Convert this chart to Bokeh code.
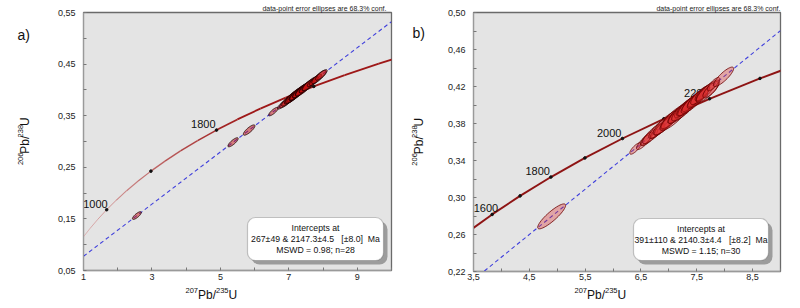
import numpy as np
from bokeh.plotting import figure
from bokeh.models import Range1d, FixedTicker, CustomJSTickFormatter, Label, BoxAnnotation, Title
from bokeh.layouts import row, column
from bokeh.embed import file_html
from bokeh.resources import INLINE
from bokeh.core.properties import value

FONT = "Liberation Sans"

# ---------------- data ----------------
# Concordia curve points (age in Ma, 207Pb/235U, 206Pb/238U)
conc_age = [700, 800, 900, 1000, 1100, 1200, 1300, 1400, 1500, 1600,
            1700, 1800, 1900, 2000, 2100, 2200, 2300, 2400, 2500]
conc_x = [0.99251, 1.19873, 1.42630, 1.67741, 1.95452, 2.26030, 2.59774, 2.97010, 3.38099, 3.83442,
          4.33477, 4.88690, 5.49619, 6.16852, 6.91045, 7.72916, 8.63259, 9.62954, 10.72972]
conc_y = [0.114702, 0.132129, 0.149828, 0.167804, 0.186061, 0.204603, 0.223435, 0.242561, 0.261988, 0.281716,
          0.301754, 0.322104, 0.342773, 0.363767, 0.385086, 0.406741, 0.428733, 0.451068, 0.473753]

a_dot_ages = [1000, 1400, 1800, 2200]
a_label_ages = [1000, 1800]
b_dot_ages = [1600, 1700, 1800, 1900, 2000, 2100, 2200, 2300]
b_label_ages = [1600, 1800, 2000, 2200]

# Discordia lines (end points across each panel)
disc_a_x = [1.0, 10.0]
disc_a_y = [0.0776, 0.5323]
disc_b_x = [3.5, 9.0]
disc_b_y = [0.2110, 0.4804]

# Panel a) analyses: 207/235, 206/238, errors, error correlation (n=28)
a_x = [2.56, 5.37, 5.84, 6.55, 6.80, 6.92, 7.00, 7.05, 7.10, 7.13, 7.17, 7.20, 7.22, 7.25,
       7.28, 7.30, 7.33, 7.36, 7.40, 7.43, 7.47, 7.52, 7.57, 7.63, 7.70, 7.78, 7.88, 7.95]
a_y = [0.1565, 0.2985, 0.3222, 0.3580, 0.3708, 0.3765, 0.3812, 0.3828, 0.3864, 0.3868, 0.3898, 0.3904, 0.3925, 0.3930,
       0.3952, 0.3955, 0.3979, 0.3984, 0.4013, 0.4020, 0.4048, 0.4065, 0.4100, 0.4122, 0.4160, 0.4195, 0.4250, 0.4290]
a_sx = [0.13, 0.15, 0.17, 0.14, 0.13, 0.19, 0.21, 0.16, 0.23, 0.17, 0.26, 0.19, 0.21, 0.15,
        0.25, 0.18, 0.22, 0.16, 0.20, 0.24, 0.17, 0.21, 0.19, 0.23, 0.16, 0.18, 0.21, 0.17]
a_sy = [0.0075, 0.0088, 0.0100, 0.0082, 0.0080, 0.0115, 0.0128, 0.0097, 0.0138, 0.0103, 0.0155, 0.0115, 0.0128, 0.0092,
        0.0150, 0.0109, 0.0133, 0.0097, 0.0121, 0.0144, 0.0103, 0.0128, 0.0115, 0.0138, 0.0097, 0.0109, 0.0128, 0.0103]
a_rho = [0.80, 0.82, 0.82, 0.82, 0.82, 0.83, 0.84, 0.82, 0.84, 0.82, 0.86, 0.83, 0.84, 0.82,
         0.86, 0.83, 0.84, 0.82, 0.83, 0.85, 0.82, 0.84, 0.83, 0.84, 0.82, 0.83, 0.84, 0.82]

# Panel b) analyses (n=30)
b_x = [4.90, 6.40, 6.55, 6.60, 6.65, 6.72, 6.80, 6.85, 6.90, 6.95, 7.00, 7.05, 7.10, 7.15, 7.20,
       7.25, 7.28, 7.32, 7.36, 7.40, 7.44, 7.48, 7.52, 7.56, 7.60, 7.65, 7.70, 7.75, 7.80, 7.98]
b_y = [0.2796, 0.3530, 0.3598, 0.3635, 0.3650, 0.3692, 0.3720, 0.3758, 0.3770, 0.3806, 0.3822, 0.3855, 0.3870, 0.3902, 0.3920,
       0.3951, 0.3958, 0.3985, 0.3998, 0.4025, 0.4036, 0.4065, 0.4075, 0.4105, 0.4125, 0.4140, 0.4150, 0.4165, 0.4225, 0.4305]
b_sx = [0.25, 0.10, 0.13, 0.11, 0.15, 0.19, 0.13, 0.21, 0.16, 0.23, 0.14, 0.19, 0.26, 0.17, 0.21,
        0.15, 0.23, 0.18, 0.20, 0.16, 0.22, 0.14, 0.19, 0.17, 0.13, 0.16, 0.21, 0.14, 0.11, 0.18]
b_sy = [0.0135, 0.0062, 0.0080, 0.0070, 0.0090, 0.0110, 0.0080, 0.0120, 0.0096, 0.0130, 0.0086, 0.0110, 0.0146, 0.0100, 0.0120,
        0.0090, 0.0130, 0.0105, 0.0115, 0.0096, 0.0125, 0.0086, 0.0110, 0.0100, 0.0082, 0.0096, 0.0120, 0.0088, 0.0072, 0.0105]
b_rho = [0.88, 0.80, 0.82, 0.80, 0.83, 0.84, 0.82, 0.85, 0.83, 0.85, 0.82, 0.84, 0.86, 0.83, 0.85,
         0.82, 0.85, 0.83, 0.84, 0.83, 0.85, 0.81, 0.84, 0.83, 0.79, 0.82, 0.84, 0.77, 0.79, 0.85]

# Axes ticks
a_xticks = [1, 3, 5, 7, 9]
a_xminor = [2, 4, 6, 8, 10]
a_yticks = [0.05, 0.15, 0.25, 0.35, 0.45, 0.55]
a_yminor = [0.10, 0.20, 0.30, 0.40, 0.50]
b_xticks = [3.5, 4.5, 5.5, 6.5, 7.5, 8.5]
b_xminor = [4, 5, 6, 7, 8, 9]
b_yticks = [0.22, 0.26, 0.30, 0.34, 0.38, 0.42, 0.46, 0.50]
b_yminor = [0.24, 0.28, 0.32, 0.36, 0.40, 0.44, 0.48]

NB = "\u00a0"
a_box_lines = ["Intercepts at", "267\u00b149 & 2147.3\u00b14.5 " + NB * 2 + "[\u00b18.0] " + NB + "Ma", "MSWD = 0.98; n=28"]
b_box_lines = ["Intercepts at", "391\u00b1110 & 2140.3\u00b14.4 " + NB * 2 + "[\u00b18.2] " + NB + "Ma", "MSWD = 1.15; n=30"]
conf_text = "data-point error ellipses are 68.3% conf."

CHARW = {"0": .556, "1": .556, "2": .556, "3": .556, "4": .556, "5": .556, "6": .556, "7": .556,
         "8": .556, "9": .556, "P": .667, "b": .556, "/": .278, "U": .722}

STRIP_W = 40      # width of the left strip holding the y title
ROW_H = 284       # height of the row with the plot
BOT_H = 24        # height of the bottom strip holding the x title


def ellipse_xy(cx, cy, sx, sy, rho, n=48):
    t = np.linspace(0, 2 * np.pi, n)
    xs = cx + sx * np.cos(t)
    ys = cy + sy * (rho * np.cos(t) + np.sqrt(1 - rho ** 2) * np.sin(t))
    return list(xs), list(ys)


def strip(w, h):
    s = figure(width=w, height=h, output_backend="svg", toolbar_location=None, title=None,
               x_range=Range1d(0, w), y_range=Range1d(h, 0),
               x_axis_location=None, y_axis_location=None, min_border=0,
               min_border_left=0, min_border_right=0, min_border_top=0, min_border_bottom=0)
    s.outline_line_color = None
    s.background_fill_color = "white"
    s.border_fill_color = "white"
    s.grid.visible = False
    return s


def iso_title(s, sup1, sup2, start, base, vertical=False, big=12.0, small=7.5, raise_px=4.5):
    parts = [(sup1, True), ("Pb/", False), (sup2, True), ("U", False)]
    cur = start
    for txt, sup in parts:
        fs = small if sup else big
        w = sum(CHARW.get(c, 0.6) for c in txt) * fs
        if not vertical:
            s.text([cur], [base - (raise_px if sup else 0)], text=[txt], text_font=value(FONT),
                   text_font_size="%.1fpx" % fs, text_align="left", text_baseline="alphabetic",
                   text_color="#111111")
            cur += w
        else:
            s.text([base - (raise_px if sup else 0)], [cur], text=[txt], angle=np.pi / 2,
                   text_font=value(FONT), text_font_size="%.1fpx" % fs, text_align="left",
                   text_baseline="alphabetic", text_color="#111111")
            cur -= w


def make_panel(xr, yr, fl, fr, ft, fb, xt, xm, yt, ym, xdec, ydec, standoff,
               dot_ages, label_ages, label_dx, dxs, dys, ex, ey, esx, esy, erho,
               fill, falpha, eline, conc_grad, box, box_lines, letter, letter_xy,
               xlab_start, ylab_base, conf_offset):
    # fl, fr, ft, fb : frame left / right / top / bottom in panel pixel coords
    W = 400 - STRIP_W
    p = figure(width=W, height=ROW_H, output_backend="svg", toolbar_location=None,
               title=Title(text=conf_text, align="right", text_font=FONT, text_font_size="7px",
                           text_font_style="normal", text_color="#222222", standoff=1,
                           offset=conf_offset),
               x_range=Range1d(*xr), y_range=Range1d(*yr),
               min_border_left=fl - STRIP_W, min_border_right=400 - fr,
               min_border_top=ft, min_border_bottom=ROW_H - fb)
    p.background_fill_color = "#e4e4e4"
    p.border_fill_color = "white"
    p.outline_line_color = "#6a6a6a"
    p.outline_line_width = 1.3
    p.grid.visible = False
    p.xaxis.ticker = FixedTicker(ticks=xt, minor_ticks=xm)
    p.yaxis.ticker = FixedTicker(ticks=yt, minor_ticks=ym)
    p.xaxis.formatter = CustomJSTickFormatter(code="return tick.toFixed(%d).replace('.', ',');" % xdec)
    p.yaxis.formatter = CustomJSTickFormatter(code="return tick.toFixed(%d).replace('.', ',');" % ydec)
    for ax in (p.xaxis[0], p.yaxis[0]):
        ax.axis_line_color = "#9a9a9a"
        ax.major_tick_in = 3
        ax.major_tick_out = 0
        ax.minor_tick_in = 3
        ax.minor_tick_out = 0
        ax.major_tick_line_color = "#777777"
        ax.minor_tick_line_color = "#777777"
        ax.major_label_text_font = FONT
        ax.major_label_text_font_size = "9px"
        ax.major_label_text_color = "#222222"
    p.xaxis.major_label_standoff = standoff
    p.yaxis.major_label_standoff = 8
    fw = fr - fl
    fh = fb - ft

    def dx(px):
        return xr[0] + (px - fl) / fw * (xr[1] - xr[0])

    def dy(py):
        return yr[1] - (py - ft) / fh * (yr[1] - yr[0])

    # concordia
    segs_x, segs_y, cols, wids = [], [], [], []
    for i in range(len(conc_x) - 1):
        segs_x.append([conc_x[i], conc_x[i + 1]])
        segs_y.append([conc_y[i], conc_y[i + 1]])
        if conc_grad:
            m = 0.5 * (conc_x[i] + conc_x[i + 1])
            t = min(max((m - 1.0) / 4.5, 0.0), 1.0)
            r = int(218 + (158 - 218) * t)
            g = int(170 + (24 - 170) * t)
            b = int(170 + (24 - 170) * t)
            cols.append("#%02x%02x%02x" % (r, g, b))
            wids.append(0.8 + 1.0 * t)
        else:
            cols.append("#8e1414")
            wids.append(1.9)
    p.multi_line(xs=segs_x, ys=segs_y, line_color=cols, line_width=wids)

    idx = [conc_age.index(a) for a in dot_ages]
    p.scatter([conc_x[i] for i in idx], [conc_y[i] for i in idx], size=2.6,
              color="#111111", marker="circle")
    lidx = [conc_age.index(a) for a in label_ages]
    p.text([conc_x[i] for i in lidx], [conc_y[i] for i in lidx], text=[str(a) for a in label_ages],
           text_font=value(FONT), text_font_size="11px", text_color="#111111",
           text_align="right", text_baseline="bottom", x_offset=label_dx, y_offset=-2)

    # discordia
    p.line(dxs, dys, line_color="#4040dc", line_width=1.1, line_dash="4 3")

    # error ellipses
    exs, eys = [], []
    for cx, cy, sx, sy, r in zip(ex, ey, esx, esy, erho):
        a, b = ellipse_xy(cx, cy, sx, sy, r)
        exs.append(a)
        eys.append(b)
    p.patches(exs, eys, fill_color=fill, fill_alpha=falpha, line_color=eline, line_width=0.8)

    # result box with shadow
    l, t_, r_, b_ = box
    p.add_layout(BoxAnnotation(left=dx(l + 4), right=dx(r_ + 4), top=dy(t_ + 4), bottom=dy(b_ + 4),
                               fill_color="#9c9c9c", fill_alpha=1.0, line_alpha=0,
                               border_radius=8))
    p.add_layout(BoxAnnotation(left=dx(l), right=dx(r_), top=dy(t_), bottom=dy(b_),
                               fill_color="white", fill_alpha=1.0, line_color="#4a4a4a",
                               line_width=1.2, border_radius=8))
    cxp = 0.5 * (l + r_)
    for k, s_ in enumerate(box_lines):
        p.add_layout(Label(x=dx(cxp), y=dy(t_ + 10.5 + 11 * k), text=s_, text_font=FONT,
                           text_font_size="8.7px", text_align="center", text_baseline="middle",
                           text_color="#111111"))

    # left strip: panel letter and y title
    left = strip(STRIP_W, ROW_H)
    left.text([letter_xy[0]], [letter_xy[1]], text=[letter], text_font=value(FONT),
              text_font_size="14px", text_align="left", text_baseline="alphabetic",
              text_color="#111111")
    iso_title(left, "206", "238", 168, ylab_base, vertical=True)

    # bottom strip: x title
    bot = strip(400, BOT_H)
    iso_title(bot, "207", "235", xlab_start, 294 - ROW_H)

    return column(row(left, p), bot)


panel_a = make_panel((1, 10), (0.05, 0.55), 83, 391, 12, 270,
                     a_xticks, a_xminor, a_yticks, a_yminor, 0, 2, 3,
                     a_dot_ages, a_label_ages, [1, -1], disc_a_x, disc_a_y,
                     a_x, a_y, a_sx, a_sy, a_rho, "#c41010", 0.5, "#1a0000", True,
                     (247, 217, 383, 260), a_box_lines, "a)", (17, 25), 185, 24, 5)

panel_b = make_panel((3.5, 9.0), (0.22, 0.50), 73, 380, 12, 271,
                     b_xticks, b_xminor, b_yticks, b_yminor, 1, 2, 2,
                     b_dot_ages, b_label_ages, [6, -1, -1, -1], disc_b_x, disc_b_y,
                     b_x, b_y, b_sx, b_sy, b_rho, "#dd2f2f", 0.35, "#6a0000", False,
                     (233, 218, 368, 260), b_box_lines, "b)", (12, 23), 174, 18, 0)

layout = row(panel_a, panel_b)
open("out.html", "w").write(file_html(layout, INLINE))
